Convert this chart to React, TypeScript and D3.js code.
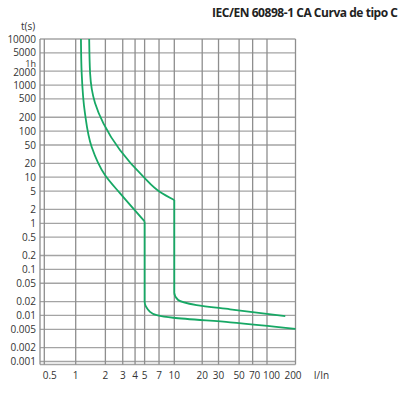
import { curveMonotoneY, line, scaleLog } from "d3";
import React from "react";

const title = "IEC/EN 60898-1 CA Curva de tipo C";

const xTicks = [0.5, 1, 2, 3, 4, 5, 7, 10, 20, 30, 50, 70, 100, 200];
const yTicks = [
  10000, 5000, 2000, 1000, 500, 200, 100, 50, 20, 10, 5, 2, 1, 0.5, 0.2, 0.1,
  0.05, 0.02, 0.01, 0.005, 0.002, 0.001,
];
const yTickLabels = [
  "10000", "5000", "2000", "1000", "500", "200", "100", "50", "20", "10", "5",
  "2", "1", "0.5", "0.2", "0.1", "0.05", "0.02", "0.01", "0.005", "0.002", "0.001",
];

// [I/In, t(s)]
const coldThermal: [number, number][] = [
  [1.13, 10000], [1.15, 1800], [1.24, 248], [1.45, 46], [1.98, 11.2],
  [2.81, 4.5], [5, 1.1],
];
const coldMagnetic: [number, number][] = [
  [5, 1.1], [5, 0.02], [5.67, 0.012], [6.63, 0.0102], [9.77, 0.0089],
  [40, 0.0071], [200, 0.0051],
];
const hotThermal: [number, number][] = [
  [1.37, 10000], [1.4, 1800], [1.57, 408], [1.91, 148], [2.81, 39],
  [4.85, 10.3], [7.17, 4.8], [10, 3.2],
];
const hotMagnetic: [number, number][] = [
  [10, 3.2], [10, 0.031], [11, 0.0216], [17.4, 0.0168], [40, 0.0136],
  [156, 0.0097],
];

const W = 406;
const H = 394;

const App: React.FC = () => {
  const x = scaleLog()
    .domain([0.5, 1, 10, 100, 200])
    .range([44.3, 75.7, 174.3, 267, 295.5]);
  const y = scaleLog().domain([0.001, 10000]).range([361.5, 39]);

  const left = 40;
  const right = x(200);
  const top = y(10000);
  const bottom = 364.5;

  const path = line<[number, number]>()
    .x((d) => x(d[0]))
    .y((d) => y(d[1]))
    .curve(curveMonotoneY);

  const font = "'Open Sans', 'Noto Sans', sans-serif";
  // label offsets where the original pushed crowded labels apart
  const yNudge: Record<string, number> = { "5000": -0.5, "2000": 1 };
  const xNudge: Record<number, number> = { 0.5: 5.5, 70: 2, 100: 4.5, 200: -2.5 };

  return (
    <svg
      width={W}
      height={H}
      style={{ position: "absolute", left: 0, top: 0, background: "#fff" }}
      fontFamily={font}
    >
      <text
        x={212}
        y={16.5}
        fontSize={12}
        fontWeight="bold"
        fill="#222"
        textLength={186}
        lengthAdjust="spacing"
      >
        {title}
      </text>

      {/* horizontal grid */}
      {yTicks.map((t) => (
        <line
          key={"h" + t}
          x1={left}
          x2={right}
          y1={y(t)}
          y2={y(t)}
          stroke="#a4a4a4"
          strokeWidth={1.3}
        />
      ))}
      <line x1={left} x2={right} y1={bottom} y2={bottom} stroke="#a4a4a4" strokeWidth={1.3} />

      {/* vertical grid */}
      {xTicks.map((v) => (
        <line
          key={"v" + v}
          x1={x(v)}
          x2={x(v)}
          y1={top}
          y2={bottom}
          stroke="#8e8e8e"
          strokeWidth={1.3}
        />
      ))}
      <line x1={left} x2={left} y1={top} y2={bottom} stroke="#8e8e8e" strokeWidth={1.3} />

      {/* curves */}
      {[coldThermal, coldMagnetic, hotThermal, hotMagnetic].map((d, i) => (
        <path
          key={i}
          d={path(d)!}
          fill="none"
          stroke="#17a865"
          strokeWidth={1.8}
        />
      ))}

      {/* y labels */}
      <text x={28} y={30} textAnchor="middle" fontSize={10} fill="#333">
        t(s)
      </text>
      {yTicks.map((t, i) => (
        <text
          key={"yl" + t}
          x={36}
          y={y(t) + (yNudge[yTickLabels[i]] ?? 0)}
          dy="0.35em"
          textAnchor="end"
          fontSize={10}
          fill="#333"
        >
          {yTickLabels[i]}
        </text>
      ))}
      <text x={36} y={y(3600) + 4} dy="0.35em" textAnchor="end" fontSize={9} fill="#333">
        1h
      </text>

      {/* x labels */}
      {xTicks.map((v) => (
        <text
          key={"xl" + v}
          x={x(v) + (xNudge[v] ?? 0)}
          y={375}
          dy="0.35em"
          textAnchor="middle"
          fontSize={10}
          fill="#333"
        >
          {v}
        </text>
      ))}
      <text x={321.5} y={375} dy="0.35em" textAnchor="middle" fontSize={10} fill="#333">
        I/In
      </text>
    </svg>
  );
};

export default App;
